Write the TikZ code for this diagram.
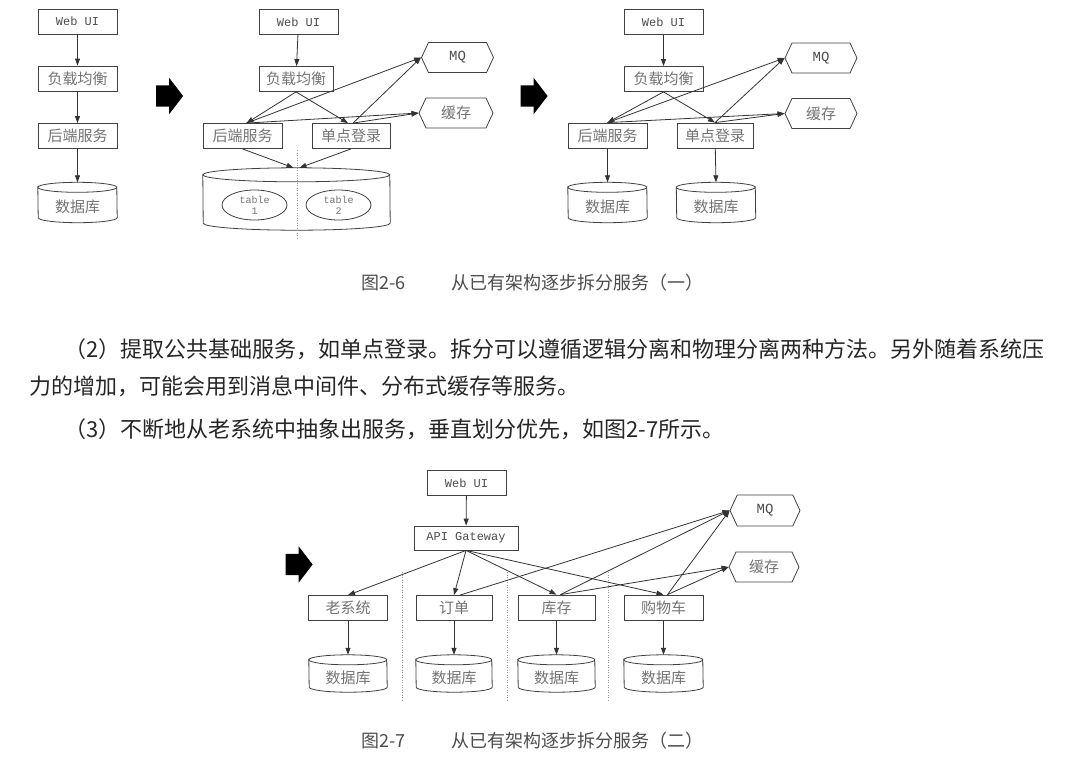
\documentclass[tikz,border=0pt]{standalone}
\usepackage{fontspec}
\setmainfont{Noto Sans CJK SC}
\newfontfamily\monofont{Liberation Mono}
\usetikzlibrary{arrows.meta,shapes.geometric,shapes.symbols,shapes.arrows}

% outline of a drum drawn round a named node: name, x radius, y radius
\newcommand\drum[3]{%
  \draw[draw=black!75, line width=0.8pt] ([yshift=-#3]#1.north west) arc[start angle=180, end angle=360, x radius=#2, y radius=#3]
    -- ([yshift=#3]#1.south east) arc[start angle=0, end angle=-180, x radius=#2, y radius=#3] -- cycle;
  \draw[draw=black!75, line width=0.8pt] ([yshift=-#3]#1.north west) arc[start angle=180, end angle=0, x radius=#2, y radius=#3];}

\begin{document}
\begin{tikzpicture}[x=1pt,y=-1pt,
  box/.style={draw=black!75, line width=0.8pt, minimum width=79pt, minimum height=25pt, inner sep=0pt, text=black!55, font=\fontsize{15}{15}\selectfont},
  dbase/.style={minimum width=79pt, minimum height=40pt, inner sep=0pt, text height=22pt, text=black!55, font=\fontsize{15}{15}\selectfont},
  queue/.style={signal, signal to=west and east, signal pointer angle=130, draw=black!75, line width=0.8pt, minimum width=72pt, minimum height=30pt, inner sep=0pt, text=black!55, font=\fontsize{15}{15}\selectfont},
  mono/.style={text=black!70, font=\monofont\fontsize{12}{12}\selectfont},
  bigmono/.style={text=black!70, font=\monofont\fontsize{14}{14}\selectfont},
  tablecell/.style={ellipse, draw=black!75, line width=0.8pt, minimum width=65pt, minimum height=30pt, inner sep=0pt, text=black!55, align=center, font=\monofont\fontsize{10}{11}\selectfont},
  bigarrow/.style={single arrow, fill=black, single arrow tip angle=105, single arrow head extend=7.5pt, minimum height=27pt, minimum width=36pt, inner xsep=0pt, inner ysep=10.5pt},
  link/.style={draw=black!80, line width=0.8pt, -{Triangle[length=7pt,width=5pt]}},
  split/.style={draw=black!40, line width=0.6pt, dash pattern=on 1pt off 1.5pt},
  caption/.style={anchor=west, inner sep=0pt, text=black!70, font=\fontsize{18}{18}\selectfont},
  body/.style={anchor=west, inner sep=0pt, text=black!85, font=\fontsize{22}{22}\selectfont}]
\useasboundingbox (0,0) rectangle (1087,764);

% stage 1
\node[box, mono] (webA) at (77.5,21.5) {Web UI};
\node[box] (lbA) at (77.5,78.5) {负载均衡};
\node[box] (beA) at (77.5,136) {后端服务};
\node[dbase] (dbA) at (77.5,202.5) {数据库};
\drum{dbA}{39.5pt}{5pt}
\draw[link] (webA) -- (lbA);
\draw[link] (lbA) -- (beA);
\draw[link] (beA) -- (dbA.north);
\node[bigarrow] (arrA) at (165.5,96) {};

% stage 2
\node[box, mono] (webB) at (298.5,22) {Web UI};
\node[box, minimum width=74pt] (lbB) at (296,79) {负载均衡};
\node[box] (beB) at (242.5,136) {后端服务};
\node[box, minimum width=78pt] (ssoB) at (351,136) {单点登录};
\node[queue, bigmono] (mqB) at (457.5,57.5) {MQ};
\node[queue, minimum width=74pt] (cacheB) at (456,113) {缓存};
\node[dbase, minimum width=187pt, minimum height=62pt] (dbB) at (296.5,199) {};
\drum{dbB}{93.5pt}{7pt}
\node[tablecell] (tabB1) at (254.5,205) {table\\1};
\node[tablecell] (tabB2) at (338.5,205) {table\\2};
\draw[split] (297,150) -- (297,240);
\draw[link] (webB) -- (lbB);
\draw[link] (lbB.south) -- ([xshift=4pt]beB.north);
\draw[link] (lbB.south) -- ([xshift=-3pt]ssoB.north);
\draw[link] ([xshift=4pt]beB.north) -- (mqB.west);
\draw[link] ([xshift=4pt]beB.north) -- (cacheB.west);
\draw[link] ([xshift=2pt]ssoB.north) -- (mqB.west);
\draw[link] ([xshift=2pt]ssoB.north) -- (cacheB.west);
\draw[link] (beB.south) -- ([xshift=-3pt]dbB.north);
\draw[link] (ssoB.south) -- ([xshift=3pt]dbB.north);

% stage 3
\node[bigarrow] (arrB) at (530,96) {};
\node[box, mono] (webC) at (663.5,22) {Web UI};
\node[box] (lbC) at (663.5,79) {负载均衡};
\node[box] (beC) at (607.5,135.5) {后端服务};
\node[box, minimum width=76pt] (ssoC) at (715,135.5) {单点登录};
\node[queue, bigmono] (mqC) at (821,58) {MQ};
\node[queue] (cacheC) at (821,113.5) {缓存};
\node[dbase] (dbC1) at (607.5,202.5) {数据库};
\node[dbase] (dbC2) at (716,202.5) {数据库};
\drum{dbC1}{39.5pt}{5pt}
\drum{dbC2}{39.5pt}{5pt}
\draw[link] (webC) -- (lbC);
\draw[link] (lbC.south) -- (beC.north);
\draw[link] (lbC.south) -- (ssoC.north);
\draw[link] (beC.north) -- (mqC.west);
\draw[link] (beC.north) -- (cacheC.west);
\draw[link] (ssoC.north) -- (mqC.west);
\draw[link] (ssoC.north) -- (cacheC.west);
\draw[link] (beC) -- (dbC1.north);
\draw[link] (ssoC) -- (dbC2.north);

\node[caption] (capnumA) at (361,283) {图2-6};
\node[caption] (captextA) at (451,283) {从已有架构逐步拆分服务（一）};

\node[body] (paraA) at (64,349) {（2）提取公共基础服务，如单点登录。拆分可以遵循逻辑分离和物理分离两种方法。另外随着系统压};
\node[body] (paraB) at (29,386) {力的增加，可能会用到消息中间件、分布式缓存等服务。};
\node[body] (paraC) at (64,429) {（3）不断地从老系统中抽象出服务，垂直划分优先，如图2-7所示。};

% stage 4
\node[bigarrow] (arrD) at (295,564.5) {};
\node[box, mono] (webD) at (466.5,483) {Web UI};
\node[box, mono, minimum width=104pt, minimum height=24pt] (gwD) at (466,538) {API Gateway};
\node[box] (oldD) at (348,608) {老系统};
\node[box, minimum width=76pt] (orderD) at (454,608) {订单};
\node[box, minimum width=77pt] (stockD) at (556.5,607.5) {库存};
\node[box] (cartD) at (663.5,607.5) {购物车};
\node[queue, bigmono, minimum width=70pt, minimum height=31pt] (mqD) at (765,510.5) {MQ};
\node[queue, minimum width=70pt] (cacheD) at (764,567) {缓存};
\node[dbase, minimum width=78pt, minimum height=37pt] (dbD1) at (348,673.5) {数据库};
\node[dbase, minimum width=76pt, minimum height=37pt] (dbD2) at (454,673.5) {数据库};
\node[dbase, minimum width=77pt, minimum height=37pt] (dbD3) at (556.5,673.5) {数据库};
\node[dbase, minimum height=37pt] (dbD4) at (663.5,673.5) {数据库};
\drum{dbD1}{39pt}{5pt}
\drum{dbD2}{38pt}{5pt}
\drum{dbD3}{38.5pt}{5pt}
\drum{dbD4}{39.5pt}{5pt}
\draw[split] (402,572) -- (402,700);
\draw[split] (507,572) -- (507,700);
\draw[split] (608,572) -- (608,700);
\draw[link] (webD) -- (gwD);
\draw[link] (gwD.south) -- (oldD.north);
\draw[link] (gwD.south) -- (orderD.north);
\draw[link] (gwD.south) -- (stockD.north);
\draw[link] (gwD.south) -- (cartD.north);
\draw[link] ([xshift=6pt]orderD.north) -- (mqD.west);
\draw[link] ([xshift=4pt]stockD.north) -- (mqD.west);
\draw[link] ([xshift=4pt]stockD.north) -- (cacheD.west);
\draw[link] ([xshift=4pt]cartD.north) -- (mqD.west);
\draw[link] ([xshift=4pt]cartD.north) -- (cacheD.west);
\draw[link] (oldD) -- (dbD1.north);
\draw[link] (orderD) -- (dbD2.north);
\draw[link] (stockD) -- (dbD3.north);
\draw[link] (cartD) -- (dbD4.north);

\node[caption] (capnumB) at (361,741) {图2-7};
\node[caption] (captextB) at (451,741) {从已有架构逐步拆分服务（二）};
\end{tikzpicture}
\end{document}
